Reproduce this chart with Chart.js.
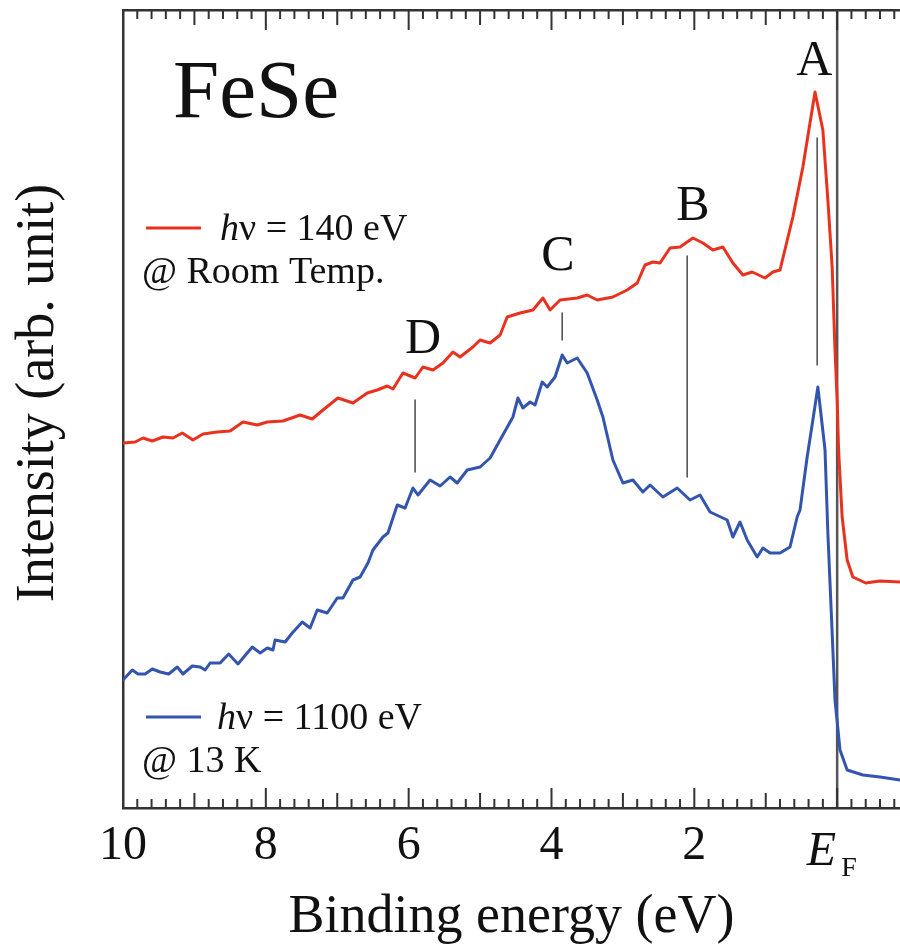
<!DOCTYPE html>
<html lang="en">
<head>
<meta charset="UTF-8">
<title>FeSe photoemission spectra</title>
<script src="https://cdn.jsdelivr.net/npm/chart.js"></script>
<style>
  body { margin: 0; background: #fff; }
  .wrap { width: 900px; height: 950px; }
</style>
</head>
<body>
<div class="wrap"><canvas id="feseChart"></canvas></div>
<script>
// hv = 140 eV, room temperature (binding energy in eV, intensity arb.)
const redE = [10.00, 9.83, 9.72, 9.59, 9.44, 9.30, 9.17, 9.02, 8.88, 8.68, 8.50, 8.32, 8.12, 7.98, 7.76, 7.52,
  7.35, 7.20, 6.99, 6.78, 6.58, 6.44, 6.30, 6.22, 6.08, 5.91, 5.80, 5.66, 5.52, 5.38, 5.28, 5.10, 5.00, 4.86,
  4.72, 4.62, 4.44, 4.26, 4.12, 4.02, 3.88, 3.64, 3.50, 3.36, 3.14, 2.94, 2.80, 2.69, 2.58, 2.48, 2.34, 2.20,
  2.02, 1.88, 1.74, 1.60, 1.46, 1.32, 1.19, 1.01, 0.90, 0.80, 0.62, 0.48, 0.31, 0.20, 0.13, 0.07, 0.03, 0.00,
  -0.02, -0.07, -0.14, -0.22, -0.40, -0.60, -0.88];
const redI = [3.65, 3.66, 3.70, 3.67, 3.71, 3.70, 3.75, 3.68, 3.74, 3.76, 3.77, 3.86, 3.83, 3.86, 3.87, 3.93,
  3.89, 3.98, 4.10, 4.05, 4.15, 4.18, 4.22, 4.19, 4.35, 4.30, 4.41, 4.38, 4.45, 4.56, 4.51, 4.61, 4.68, 4.65,
  4.73, 4.91, 4.95, 4.98, 5.10, 4.98, 5.08, 5.10, 5.13, 5.08, 5.11, 5.18, 5.25, 5.43, 5.46, 5.45, 5.60, 5.61,
  5.70, 5.65, 5.58, 5.61, 5.45, 5.33, 5.36, 5.30, 5.36, 5.38, 5.91, 6.41, 7.16, 6.78, 6.08, 5.41, 4.58, 4.08,
  3.58, 2.91, 2.48, 2.31, 2.25, 2.27, 2.26];

// hv = 1100 eV, 13 K
const blueE = [10.00, 9.87, 9.79, 9.69, 9.59, 9.48, 9.36, 9.24, 9.16, 9.03, 8.92, 8.85, 8.78, 8.64, 8.52, 8.39,
  8.19, 8.08, 7.98, 7.90, 7.87, 7.73, 7.63, 7.49, 7.38, 7.28, 7.14, 7.00, 6.92, 6.78, 6.68, 6.57, 6.50, 6.36,
  6.29, 6.16, 6.05, 5.94, 5.87, 5.70, 5.56, 5.42, 5.32, 5.18, 5.00, 4.86, 4.72, 4.54, 4.47, 4.40, 4.30, 4.23,
  4.13, 4.06, 3.95, 3.85, 3.78, 3.64, 3.50, 3.36, 3.28, 3.14, 3.00, 2.86, 2.72, 2.62, 2.44, 2.24, 2.06, 1.92,
  1.78, 1.54, 1.46, 1.36, 1.26, 1.12, 1.04, 0.94, 0.80, 0.66, 0.56, 0.52, 0.42, 0.34, 0.27, 0.17, 0.13, 0.07,
  0.03, -0.04, -0.14, -0.36, -0.60, -0.88];
const blueI = [1.28, 1.38, 1.34, 1.34, 1.39, 1.36, 1.34, 1.41, 1.34, 1.42, 1.41, 1.38, 1.45, 1.45, 1.54, 1.44,
  1.61, 1.55, 1.60, 1.58, 1.68, 1.66, 1.75, 1.86, 1.80, 1.98, 1.95, 2.10, 2.10, 2.28, 2.31, 2.45, 2.58, 2.71,
  2.75, 3.03, 3.00, 3.20, 3.13, 3.28, 3.22, 3.31, 3.25, 3.38, 3.41, 3.50, 3.68, 3.91, 4.10, 4.00, 4.06, 4.03,
  4.26, 4.21, 4.31, 4.53, 4.45, 4.50, 4.35, 4.08, 3.91, 3.48, 3.25, 3.28, 3.16, 3.23, 3.11, 3.20, 3.08, 3.13,
  2.96, 2.88, 2.71, 2.86, 2.68, 2.51, 2.60, 2.55, 2.55, 2.61, 2.91, 2.98, 3.51, 3.88, 4.21, 3.58, 2.75, 1.75,
  1.08, 0.58, 0.38, 0.33, 0.31, 0.28];

const xTicks = [10, 8, 6, 4, 2, 0];

// peak markers A-D
const peakNames = ['A', 'B', 'C', 'D'];
const peakE = [0.28, 2.10, 3.85, 5.91];
const peakTop = [6.70, 5.52, 4.95, 4.08];
const peakBottom = [4.43, 3.31, 4.68, 3.36];
const peakLabelE = [0.32, 2.02, 3.91, 5.80];
const peakLabelI = [7.33, 5.88, 5.38, 4.55];

const SERIF = "'Liberation Serif', 'DejaVu Serif', serif";
const RED = '#e8321e';
const BLUE = '#3455ae';

const toXY = (xs, ys) => xs.map((v, i) => ({ x: v, y: ys[i] }));

const markerSets = peakE.map((e, i) => ({
  label: 'peak ' + peakNames[i],
  data: [{ x: e, y: peakBottom[i] }, { x: e, y: peakTop[i] }],
  borderColor: '#555',
  borderWidth: 1.6,
  pointRadius: 0
}));

const decor = {
  id: 'decor',
  beforeDatasetsDraw(chart) {
    const { ctx, chartArea: a, scales: { x } } = chart;
    const xf = x.getPixelForValue(0);
    ctx.save();
    ctx.strokeStyle = '#555';
    ctx.lineWidth = 2.5;
    ctx.beginPath();
    ctx.moveTo(xf, a.top);
    ctx.lineTo(xf, a.bottom);
    ctx.stroke();
    ctx.restore();
  },
  afterDraw(chart) {
    const { ctx, chartArea: a, scales: { x, y } } = chart;
    ctx.save();

    // inward ticks, top and bottom: 0.2 eV minor, 1 eV medium, 2 eV major
    ctx.strokeStyle = '#333';
    ctx.lineWidth = 2;
    for (let k = -4; k <= 50; k++) {
      const px = x.getPixelForValue(k / 5);
      const len = k % 10 === 0 ? 20 : (k % 5 === 0 ? 15 : 9);
      ctx.beginPath();
      ctx.moveTo(px, a.bottom);
      ctx.lineTo(px, a.bottom - len);
      ctx.moveTo(px, a.top);
      ctx.lineTo(px, a.top + len);
      ctx.stroke();
    }

    ctx.fillStyle = '#111';

    // y title (sits a little above the plot centre in the original)
    ctx.save();
    ctx.translate(39, 393);
    ctx.rotate(-Math.PI / 2);
    ctx.textAlign = 'center';
    ctx.textBaseline = 'middle';
    ctx.font = '54px ' + SERIF;
    ctx.fillText('Intensity (arb. unit)', 0, 0);
    ctx.restore();

    // E_F tick label
    const xf = x.getPixelForValue(0);
    ctx.textBaseline = 'alphabetic';
    ctx.textAlign = 'right';
    ctx.font = 'italic 48px ' + SERIF;
    ctx.fillText('E', xf - 1, 865);
    ctx.textAlign = 'left';
    ctx.font = '28px ' + SERIF;
    ctx.fillText('F', xf + 4, 876);

    // peak letters
    ctx.textAlign = 'center';
    ctx.font = '50px ' + SERIF;
    peakNames.forEach((n, i) => {
      ctx.fillText(n, x.getPixelForValue(peakLabelE[i]), y.getPixelForValue(peakLabelI[i]));
    });

    // sample name
    ctx.textAlign = 'left';
    ctx.font = '83px ' + SERIF;
    ctx.fillText('FeSe', 173, 117);

    // legends
    const legend = (color, lineY, textX, baseY, energy, cond, condY) => {
      ctx.strokeStyle = color;
      ctx.lineWidth = 3;
      ctx.beginPath();
      ctx.moveTo(146, lineY);
      ctx.lineTo(201, lineY);
      ctx.stroke();
      ctx.font = 'italic 38px ' + SERIF;
      ctx.fillText('h', textX, baseY);
      const w = ctx.measureText('h').width;
      ctx.font = '38px ' + SERIF;
      ctx.fillText('\u03bd = ' + energy, textX + w, baseY);
      ctx.fillText(cond, 142, condY);
    };
    legend(RED, 228, 220, 240, '140 eV', '@ Room Temp.', 283);
    legend(BLUE, 717, 217, 729, '1100 eV', '@ 13 K', 772);

    ctx.restore();
  }
};

new Chart(document.getElementById('feseChart'), {
  type: 'line',
  data: {
    datasets: [
      { label: 'hv = 140 eV', data: toXY(redE, redI), borderColor: RED, borderWidth: 3, pointRadius: 0 },
      { label: 'hv = 1100 eV', data: toXY(blueE, blueI), borderColor: BLUE, borderWidth: 3, pointRadius: 0 },
      ...markerSets
    ]
  },
  options: {
    responsive: true,
    maintainAspectRatio: false,
    animation: false,
    layout: { padding: 0 },
    plugins: { legend: { display: false }, tooltip: { enabled: false } },
    elements: { line: { tension: 0, borderJoinStyle: 'round', borderCapStyle: 'round' } },
    scales: {
      x: {
        type: 'linear',
        position: 'bottom',
        reverse: true,
        min: -0.88,
        max: 10,
        afterBuildTicks: s => { s.ticks = xTicks.map(v => ({ value: v })); },
        afterFit: s => { s.height = 142; },
        grid: { display: false, drawTicks: false },
        border: { display: true, color: '#333', width: 2.5 },
        ticks: {
          autoSkip: false,
          maxRotation: 0,
          padding: 10,
          color: '#111',
          font: { family: SERIF, size: 48 },
          callback: v => (v === 0 ? '' : v)
        },
        title: {
          display: true,
          text: 'Binding energy (eV)',
          color: '#111',
          font: { family: SERIF, size: 54 },
          padding: { top: 0, bottom: 0 }
        }
      },
      xTop: {
        type: 'linear',
        position: 'top',
        reverse: true,
        min: -0.88,
        max: 10,
        afterFit: s => { s.height = 10; },
        grid: { display: false, drawTicks: false },
        border: { display: true, color: '#333', width: 2.5 },
        ticks: { display: false }
      },
      y: {
        min: 0,
        max: 7.98,
        afterFit: s => { s.width = 123; },
        grid: { display: false, drawTicks: false },
        border: { display: true, color: '#333', width: 2.5 },
        ticks: { display: false }
      }
    }
  },
  plugins: [decor]
});
</script>
</body>
</html>
